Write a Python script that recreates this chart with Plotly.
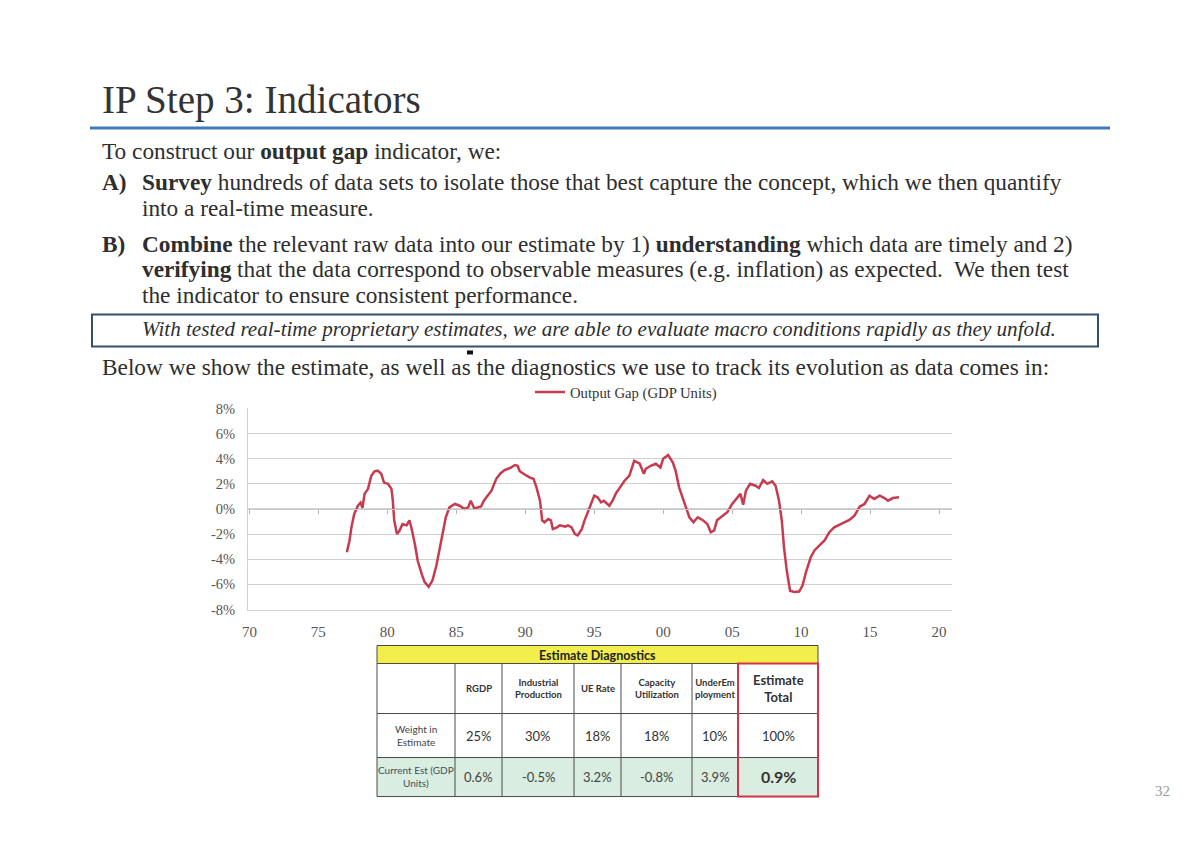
import plotly.graph_objects as go

W, H = 1200, 850

# The photographed page comes out slightly offset and scaled relative to the figure
# (measured: x' = 0.995*x + 6, y' = 0.981*y + 7.6), so window targets are mapped back.
def X(t):
    return ((t - 6) / 0.995) / W

def Y(t):
    return 1 - ((t - 7.6) / 0.981) / H

# ---------------- data ----------------
years = [1977.07, 1977.26, 1977.4, 1977.6, 1977.87, 1978.06, 1978.2, 1978.35, 1978.6, 1978.84,
         1979.08, 1979.3, 1979.56, 1979.76, 1980.05, 1980.3, 1980.4, 1980.5, 1980.7, 1980.9,
         1981.1, 1981.4, 1981.6, 1981.74, 1982.0, 1982.2, 1982.5, 1982.7, 1983.0, 1983.27,
         1983.56, 1983.8, 1984.04, 1984.24, 1984.5, 1984.9, 1985.25, 1985.6, 1985.86, 1986.05,
         1986.3, 1986.6, 1986.8, 1987.0, 1987.3, 1987.55, 1987.9, 1988.2, 1988.5, 1988.9,
         1989.25, 1989.45, 1989.6, 1989.85, 1990.1, 1990.34, 1990.6, 1990.82, 1991.07, 1991.23,
         1991.4, 1991.67, 1991.86, 1992.0, 1992.3, 1992.5, 1992.9, 1993.1, 1993.36, 1993.6,
         1993.8, 1994.1, 1994.3, 1994.58, 1994.8, 1995.0, 1995.24, 1995.5, 1995.7, 1996.1,
         1996.33, 1996.6, 1996.8, 1997.2, 1997.55, 1997.9, 1998.3, 1998.6, 1998.74, 1999.1,
         1999.47, 1999.8, 2000.0, 2000.36, 2000.7, 2000.9, 2001.16, 2001.5, 2001.9, 2002.2,
         2002.5, 2002.85, 2003.2, 2003.45, 2003.7, 2003.9, 2004.3, 2004.65, 2005.0, 2005.4,
         2005.6, 2005.8, 2006.0, 2006.3, 2006.7, 2006.94, 2007.25, 2007.55, 2007.9, 2008.15,
         2008.4, 2008.6, 2008.76, 2008.96, 2009.2, 2009.5, 2009.86, 2010.1, 2010.36, 2010.7,
         2010.97, 2011.33, 2011.7, 2012.05, 2012.4, 2012.8, 2013.14, 2013.5, 2013.87, 2014.24,
         2014.6, 2014.96, 2015.3, 2015.7, 2016.05, 2016.3, 2016.65, 2017.1]
output_gap = [-3.44, -2.5, -1.45, -0.4, 0.26, 0.5, 0.1, 1.2, 1.6, 2.65,
              3.0, 3.05, 2.8, 2.1, 2.0, 1.6, 0.66, -0.9, -2.0, -1.7,
              -1.2, -1.3, -0.9, -1.45, -2.8, -4.1, -5.2, -5.8, -6.2, -5.7,
              -4.5, -3.05, -1.7, -0.66, 0.13, 0.4, 0.26, 0.0, 0.13, 0.66,
              0.05, 0.13, 0.2, 0.66, 1.06, 1.46, 2.4, 2.83, 3.1, 3.26,
              3.5, 3.44, 3.0, 2.8, 2.65, 2.5, 2.4, 1.7, 0.66, -0.9,
              -1.06, -0.8, -0.9, -1.6, -1.46, -1.3, -1.4, -1.3, -1.46, -2.0,
              -2.1, -1.6, -0.9, -0.13, 0.53, 1.06, 0.93, 0.53, 0.66, 0.26,
              0.66, 1.3, 1.6, 2.25, 2.65, 3.84, 3.6, 2.8, 3.2, 3.44,
              3.6, 3.3, 4.0, 4.3, 3.7, 3.05, 1.7, 0.66, -0.66, -1.06,
              -0.66, -0.87, -1.2, -1.85, -1.7, -0.9, -0.53, -0.26, 0.4, 0.93,
              1.2, 0.34, 1.46, 2.0, 1.85, 1.67, 2.3, 2.0, 2.2, 1.85,
              0.66, -0.9, -3.05, -4.9, -6.5, -6.6, -6.57, -6.1, -5.0, -3.84,
              -3.3, -2.9, -2.5, -1.85, -1.46, -1.25, -1.06, -0.87, -0.53, 0.18,
              0.4, 1.06, 0.8, 1.06, 0.87, 0.66, 0.87, 0.93]

x_tick_vals = [1970, 1975, 1980, 1985, 1990, 1995, 2000, 2005, 2010, 2015, 2020]
x_tick_text = ["70", "75", "80", "85", "90", "95", "00", "05", "10", "15", "20"]
y_tick_vals = [8, 6, 4, 2, 0, -2, -4, -6, -8]
y_tick_text = ["8%", "6%", "4%", "2%", "0%", "-2%", "-4%", "-6%", "-8%"]

table_title = "Estimate Diagnostics"
table_headers = ["", "RGDP", "Industrial<br>Production", "UE Rate", "Capacity<br>Utilization",
                 "UnderEm<br>ployment", "Estimate<br>Total"]
weight_row = ["Weight in<br>Estimate", "25%", "30%", "18%", "18%", "10%", "100%"]
current_row = ["Current Est (GDP<br>Units)", "0.6%", "-0.5%", "3.2%", "-0.8%", "3.9%", "0.9%"]

SERIF = "Liberation Serif"
SANS = "Lato"
TXT = "#2e2e2e"
BODY = 23.3

fig = go.Figure()
fig.add_trace(go.Scatter(x=years, y=output_gap, mode="lines", name="Output Gap (GDP Units)",
                         line=dict(color="#c63b4f", width=2.5), xaxis="x", yaxis="y"))
fig.add_trace(go.Scatter(x=[], y=[], mode="lines", showlegend=False, hoverinfo="skip",
                         xaxis="x2", yaxis="y"))

shapes = []
ann = []

def text(px, py, s, size, family=SERIF, color=TXT, xanchor="left", align="left"):
    ann.append(dict(x=X(px), y=Y(py), xref="paper", yref="paper", text=s, showarrow=False,
                    xanchor=xanchor, yanchor="middle", align=align,
                    font=dict(family=family, size=size, color=color)))

# ---- slide text ----
text(99.5, 100, "IP Step 3: Indicators", 39.1, color="#333333")
shapes.append(dict(type="line", xref="paper", yref="paper", x0=X(90), x1=X(1110), y0=Y(127.5), y1=Y(127.5),
                   line=dict(color="#3f7cb9", width=3)))
text(99.5, 151, "To construct our <b>output gap</b> indicator, we:", BODY)
text(99.5, 182, "<b>A)</b>", BODY)
text(139.5, 182, "<b>Survey</b> hundreds of data sets to isolate those that best capture the concept, which we then quantify", BODY)
text(139.5, 208, "into a real-time measure.", BODY)
text(99.5, 244, "<b>B)</b>", BODY)
text(139.5, 244, "<b>Combine</b> the relevant raw data into our estimate by 1) <b>understanding</b> which data are timely and 2)", BODY)
text(139.5, 269, "<b>verifying</b> that the data correspond to observable measures (e.g. inflation) as expected.  We then test", BODY)
text(139.5, 295, "the indicator to ensure consistent performance.", BODY)
shapes.append(dict(type="rect", xref="paper", yref="paper", x0=X(92), x1=X(1098), y0=Y(314), y1=Y(346),
                   line=dict(color="#34506e", width=2)))
text(139.5, 329, "<i>With tested real-time proprietary estimates, we are able to evaluate macro conditions rapidly as they unfold.</i>", 21.1)
shapes.append(dict(type="rect", xref="paper", yref="paper", x0=X(467), x1=X(473), y0=Y(350), y1=Y(354),
                   line=dict(width=0), fillcolor="#111111"))
text(99.5, 367, "Below we show the estimate, as well as the diagnostics we use to track its evolution as data comes in:", BODY)
text(1172, 790, "32", 15, color="#9a9a9a", xanchor="right")

# ---- table ----
cols = [377, 455, 502, 574, 621, 692, 738, 818]
rows = [645, 663, 713, 757, 796]
GRID = "#4a4a4a"
shapes.append(dict(type="rect", xref="paper", yref="paper", x0=X(cols[0]), x1=X(cols[-1]), y0=Y(rows[0]), y1=Y(rows[1]),
                   line=dict(width=0), fillcolor="#f2ee4b", layer="below"))
shapes.append(dict(type="rect", xref="paper", yref="paper", x0=X(cols[0]), x1=X(cols[-1]), y0=Y(rows[3]), y1=Y(rows[4]),
                   line=dict(width=0), fillcolor="#d9ede0", layer="below"))
for ry in rows:
    shapes.append(dict(type="line", xref="paper", yref="paper", x0=X(cols[0]), x1=X(cols[-1]), y0=Y(ry), y1=Y(ry),
                       line=dict(color=GRID, width=1)))
for i, cx in enumerate(cols):
    top = rows[0] if i in (0, len(cols) - 1) else rows[1]
    shapes.append(dict(type="line", xref="paper", yref="paper", x0=X(cx), x1=X(cx), y0=Y(top), y1=Y(rows[-1]),
                       line=dict(color=GRID, width=1)))
shapes.append(dict(type="rect", xref="paper", yref="paper", x0=X(738), x1=X(818), y0=Y(663), y1=Y(796),
                   line=dict(color="#d3344c", width=2)))

centers = [(cols[i] + cols[i + 1]) / 2 for i in range(len(cols) - 1)]
text((cols[0] + cols[-1]) / 2, 654.5, "<b>" + table_title + "</b>", 12.5, family=SANS, color="#222", xanchor="center", align="center")
for i, s in enumerate(table_headers):
    if not s:
        continue
    if i == len(table_headers) - 1:
        text(centers[i], 688, "<b>" + s + "</b>", 13, family=SANS, color="#333", xanchor="center", align="center")
    else:
        text(centers[i], 688, "<b>" + s + "</b>", 9.5, family=SANS, color="#333", xanchor="center", align="center")
for i, s in enumerate(weight_row):
    if i == 0:
        text(centers[i], 735, s, 10, family=SANS, color="#444", xanchor="center", align="center")
    else:
        text(centers[i], 735, s, 13, family=SANS, color="#333", xanchor="center", align="center")
for i, s in enumerate(current_row):
    if i == 0:
        text(centers[i], 776, s, 10, family=SANS, color="#3f4f5f", xanchor="center", align="center")
    elif i == len(current_row) - 1:
        text(centers[i], 776, "<b>" + s + "</b>", 16, family=SANS, color="#333", xanchor="center", align="center")
    else:
        text(centers[i], 776, s, 13, family=SANS, color="#444", xanchor="center", align="center")

fig.update_layout(
    width=W, height=H, margin=dict(l=0, r=0, t=0, b=0),
    paper_bgcolor="white", plot_bgcolor="white",
    showlegend=True,
    legend=dict(x=X(530), y=Y(392), xanchor="left", yanchor="middle", orientation="h",
                font=dict(family=SERIF, size=14.7, color="#333"), itemwidth=30,
                bgcolor="rgba(0,0,0,0)"),
    xaxis=dict(domain=[X(248), X(952)], range=[1969.9, 2020.94], tickvals=x_tick_vals, ticktext=x_tick_text,
               showgrid=False, zeroline=False, showline=True, linecolor="#cfcfcf", ticks="",
               ticklabelstandoff=8,
               tickfont=dict(family=SERIF, size=15, color="#555"), anchor="y"),
    xaxis2=dict(overlaying="x", range=[1969.9, 2020.94], tickvals=x_tick_vals, showticklabels=False,
                showgrid=False, zeroline=False, showline=True, linecolor="#c8c8c8", ticks="outside",
                ticklen=4, tickcolor="#b8b8b8", anchor="free", position=Y(508.5)),
    yaxis=dict(domain=[Y(609), Y(408)], range=[-8, 8], tickvals=y_tick_vals, ticktext=y_tick_text,
               showgrid=True, gridcolor="#d0d0d0", gridwidth=1, zeroline=False, showline=True,
               linecolor="#cfcfcf", ticks="", ticklabelstandoff=9,
               tickfont=dict(family=SERIF, size=14.5, color="#555")),
    shapes=shapes, annotations=ann,
)

fig.write_html("out.html")
